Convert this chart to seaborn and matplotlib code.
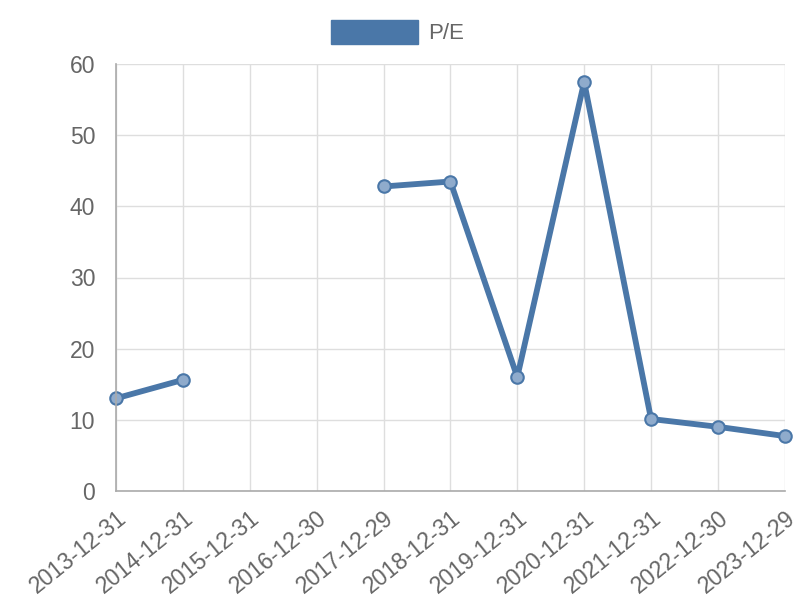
import numpy as np
import pandas as pd
import seaborn as sns
import matplotlib.pyplot as plt
from matplotlib.patches import Patch

sns.set_style("white")
plt.rcParams["font.family"] = ["Liberation Sans", "DejaVu Sans"]

dates = ["2013-12-31", "2014-12-31", "2015-12-31", "2016-12-30",
         "2017-12-29", "2018-12-31", "2019-12-31", "2020-12-31",
         "2021-12-31", "2022-12-30", "2023-12-29"]
pe_ratio = [13.0, 15.6, np.nan, np.nan, 42.8, 43.5, 16.0, 57.5,
            10.1, 9.0, 7.7]
y_ticks = [0, 10, 20, 30, 40, 50, 60]

blue = "#4a77a8"
light_blue = "#8fabcc"
grid_grey = "#dedede"
tick_grey = "#bdbdbd"
text_grey = "#666666"

data = pd.DataFrame({"date": dates, "pe": pe_ratio})
data["pos"] = np.arange(len(dates))
# a new segment starts after each missing year so the line breaks there
data["seg"] = data["pe"].isna().cumsum()
data = data.dropna()

fig, ax = plt.subplots(figsize=(8, 6), dpi=100)
fig.subplots_adjust(left=0.145, right=0.981, top=0.893, bottom=0.182)

sns.lineplot(data=data, x="pos", y="pe", units="seg", estimator=None,
             color=blue, linewidth=4.2, marker="o", markersize=9,
             markerfacecolor=light_blue, markeredgecolor=blue,
             markeredgewidth=1.5, legend=False, ax=ax)
for line in ax.lines:
    line.set_clip_on(False)

ax.set_xlim(0, len(dates) - 1)
ax.set_ylim(0, 60)
ax.set_xticks(np.arange(len(dates)))
ax.set_xticklabels(dates, rotation=39, ha="right", rotation_mode="anchor")
ax.set_yticks(y_ticks)
ax.grid(True, color=grid_grey, linewidth=1)
ax.set_axisbelow(True)
ax.tick_params(axis="x", length=9, width=1.2, color=tick_grey,
               labelsize=16.5, labelcolor=text_grey, pad=2)
ax.tick_params(axis="y", length=13, width=1.2, color=tick_grey,
               labelsize=16.5, labelcolor=text_grey, pad=2)
for side in ["top", "right"]:
    ax.spines[side].set_visible(False)
for side in ["left", "bottom"]:
    ax.spines[side].set_color("#aaaaaa")
    ax.spines[side].set_linewidth(1.2)
ax.set_xlabel("")
ax.set_ylabel("")

handle = Patch(facecolor=blue, edgecolor=blue, label="P/E")
fig.legend(handles=[handle], loc="center", bbox_to_anchor=(0.497, 0.947),
           frameon=False, fontsize=16, labelcolor=text_grey,
           handlelength=3.9, handleheight=1.3, handletextpad=0.45)

fig.savefig("out.png", dpi=100)
